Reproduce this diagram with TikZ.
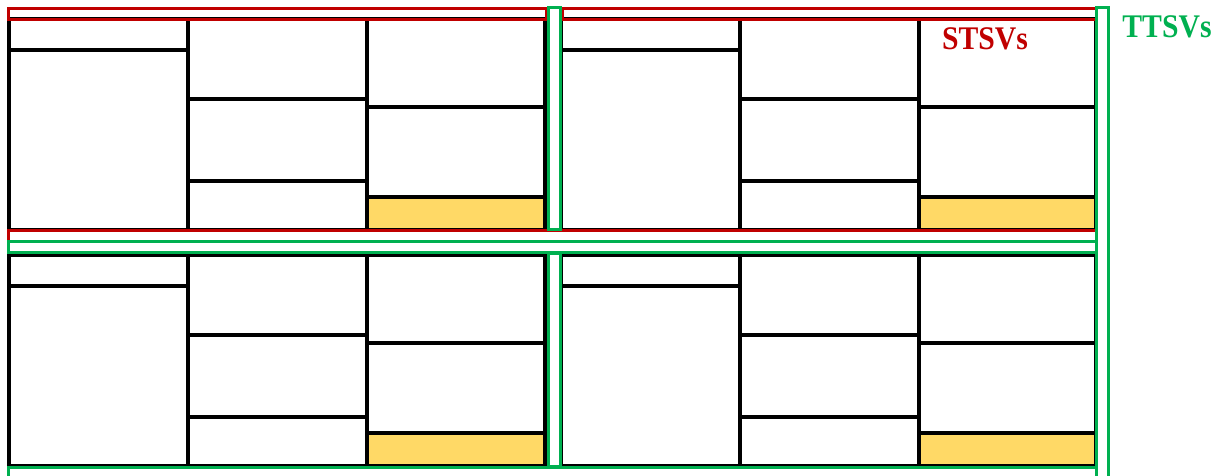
\documentclass[tikz,border=0pt]{standalone}
\usepackage{fontspec}
\setmainfont{Liberation Serif}
\newfontfamily\tagfont[FakeStretch=0.9]{Liberation Serif}
\definecolor{tsvRed}{RGB}{192,0,0}
\definecolor{tsvGreen}{RGB}{0,176,80}
\definecolor{tsvYellow}{RGB}{255,217,102}

\begin{document}
\begin{tikzpicture}[
  x=1pt, y=-1pt,
  wall/.style={draw=black, line width=3.4pt},
  bank/.style={fill=tsvYellow},
  stsv/.style={draw=tsvRed, line width=3pt},
  ttsv/.style={draw=tsvGreen, line width=3pt},
  tag/.style={font=\tagfont\fontsize{33}{33}\selectfont\bfseries, inner sep=0pt}
]
\useasboundingbox (0,0) rectangle (1216,475);
\clip (0,0) rectangle (1216,475);

% four modules, same floor plan
\foreach \mx/\my/\mw in {9/19/536, 561/19/535, 9/255/536, 561/255/535} {
  \fill[bank] (\mx+358,\my+178) rectangle (\mx+\mw,\my+211);
  \draw[wall] (\mx,\my) rectangle (\mx+\mw,\my+211);
  \draw[wall] (\mx+179,\my) -- (\mx+179,\my+211);
  \draw[wall] (\mx+358,\my) -- (\mx+358,\my+211);
  \draw[wall] (\mx,\my+31) -- (\mx+179,\my+31);
  \draw[wall] (\mx+179,\my+80) -- (\mx+358,\my+80);
  \draw[wall] (\mx+179,\my+162) -- (\mx+358,\my+162);
  \draw[wall] (\mx+358,\my+88) -- (\mx+\mw,\my+88);
  \draw[wall] (\mx+358,\my+178) -- (\mx+\mw,\my+178);
}

% STSV rows
\draw[stsv] (8,8) rectangle (546,19);
\draw[stsv] (562,8) rectangle (1096,19);
\draw[stsv] (8,230) rectangle (1096,241);

% TTSV rows and columns
\draw[ttsv] (8,241) rectangle (1096,252);
\draw[ttsv] (548,7) rectangle (560,229);
\draw[ttsv] (548,253) rectangle (560,466);
\draw[ttsv] (1096,7) rectangle (1108,490);
\draw[ttsv] (8,467) rectangle (1096,490);

\node[tag, text=tsvRed] (stsvLabel) at (985,38.5) {STSVs};
\node[tag, text=tsvGreen] (ttsvLabel) at (1167,27) {TTSVs};
\end{tikzpicture}
\end{document}
